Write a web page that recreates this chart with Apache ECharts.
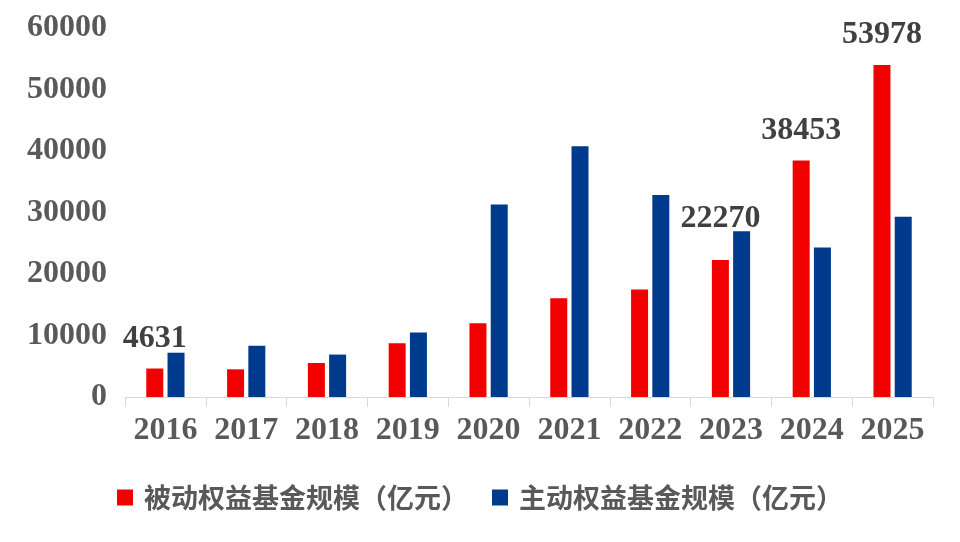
<!DOCTYPE html>
<html>
<head>
<meta charset="utf-8">
<script src="https://cdn.jsdelivr.net/npm/echarts@6/dist/echarts.min.js"></script>
<style>html,body{margin:0;padding:0;background:#fff}#c{width:960px;height:542px}</style>
</head>
<body>
<div id="c"></div>
<script>
var categories = ['2016','2017','2018','2019','2020','2021','2022','2023','2024','2025'];
var passiveValues = [4631, 4500, 5530, 8730, 11980, 16050, 17460, 22270, 38453, 53978];
var activeValues = [7200, 8340, 6900, 10500, 31300, 40760, 32850, 26940, 24300, 29300];
var labeledYears = ['2016','2023','2024','2025'];
var seriesNames = ['被动权益基金规模（亿元）','主动权益基金规模（亿元）'];
var yTicks = [0, 10000, 20000, 30000, 40000, 50000, 60000];

var serif = '"Liberation Serif", "Times New Roman", serif';
var passiveData = passiveValues.map(function (v, i) {
  var show = labeledYears.indexOf(categories[i]) >= 0;
  return {
    value: v,
    label: {
      show: show,
      position: 'top',
      distance: categories[i] === '2023' ? 25 : 14,
      color: '#404040',
      fontFamily: serif,
      fontWeight: 'bold',
      fontSize: 32
    }
  };
});

var chart = echarts.init(document.getElementById('c'), null, {renderer: 'canvas'});
chart.setOption({
  animation: false,
  backgroundColor: '#ffffff',
  grid: {left: 125, right: 27, top: 28, bottom: 145, containLabel: false},
  legend: {
    data: seriesNames,
    bottom: 26,
    left: 'center',
    itemWidth: 16,
    itemHeight: 16,
    itemGap: 24,
    icon: 'rect',
    textStyle: {
      fontFamily: '"Noto Sans CJK SC", sans-serif',
      fontWeight: 'bold',
      fontSize: 27,
      color: '#595959',
      padding: [0, 0, 0, 6]
    }
  },
  xAxis: {
    type: 'category',
    data: categories,
    axisLine: {show: true, lineStyle: {color: '#d9d9d9', width: 1}},
    axisTick: {show: true, length: 10, alignWithLabel: false, lineStyle: {color: '#d9d9d9'}},
    axisLabel: {
      interval: 0,
      margin: 18,
      color: '#595959',
      fontFamily: serif,
      fontWeight: 'bold',
      fontSize: 32
    }
  },
  yAxis: {
    type: 'value',
    min: yTicks[0],
    max: yTicks[yTicks.length - 1],
    interval: yTicks[1] - yTicks[0],
    axisLine: {show: false},
    axisTick: {show: false},
    splitLine: {show: false},
    axisLabel: {
      margin: 18,
      color: '#595959',
      fontFamily: serif,
      fontWeight: 'bold',
      fontSize: 32,
      formatter: function (v) { return String(v); }
    }
  },
  series: [
    {
      name: seriesNames[0],
      type: 'bar',
      data: passiveData,
      barWidth: 17,
      barGap: '25%',
      itemStyle: {color: '#f20000'}
    },
    {
      name: seriesNames[1],
      type: 'bar',
      data: activeValues,
      barWidth: 17,
      itemStyle: {color: '#003a8c'}
    }
  ]
});
</script>
</body>
</html>
